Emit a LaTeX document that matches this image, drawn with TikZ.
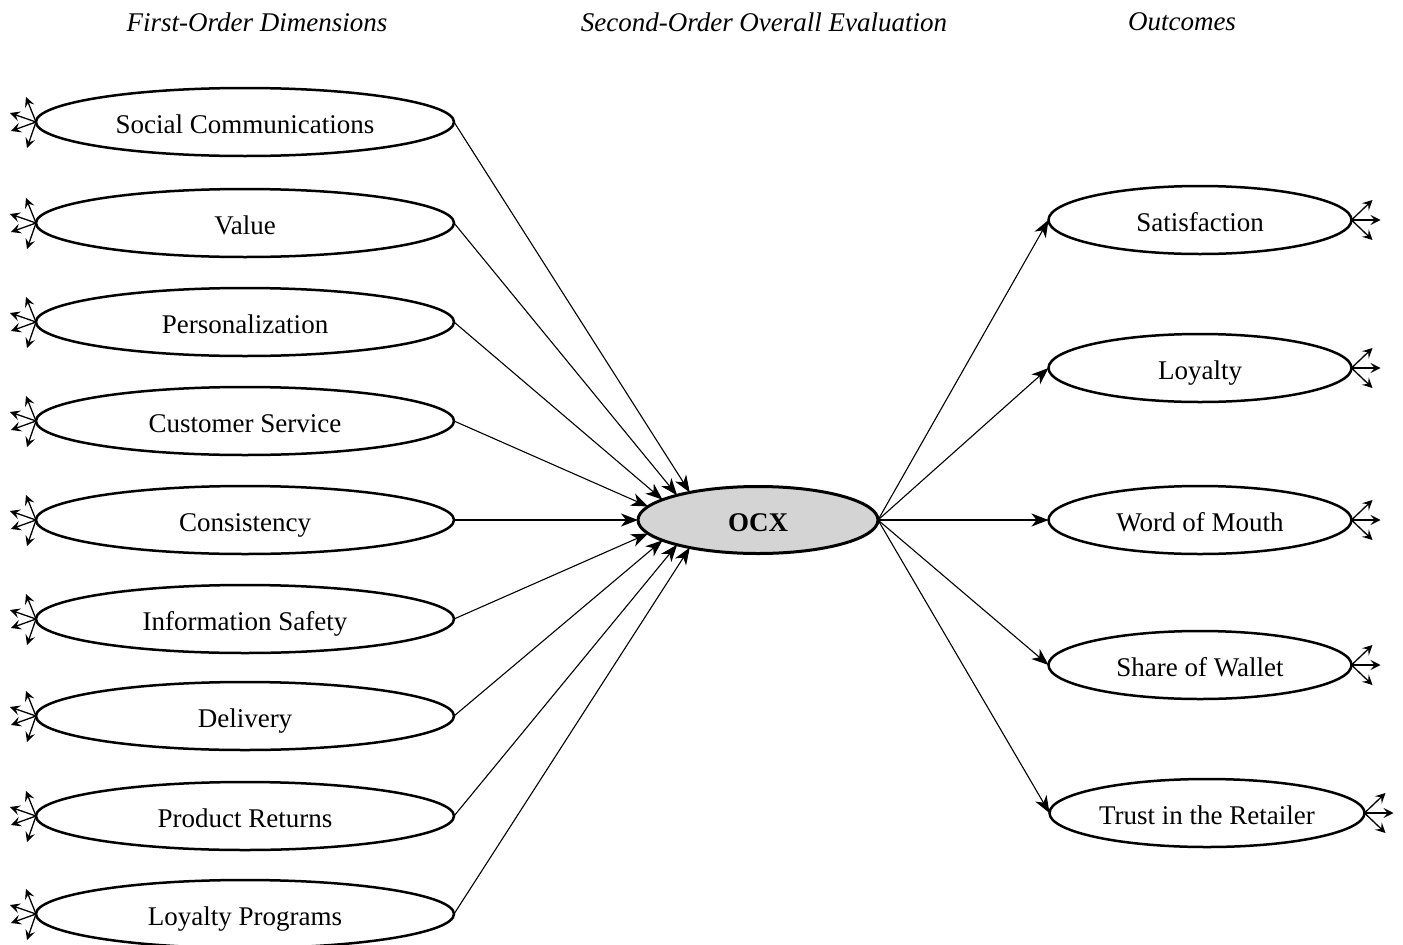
\documentclass[tikz,border=0pt]{standalone}
\usepackage{fontspec}
\setmainfont{Liberation Serif}
\usetikzlibrary{shapes.geometric,arrows.meta,calc}
\begin{document}
\begin{tikzpicture}[x=1pt,y=-1pt,
  lat/.style={ellipse,draw,line width=2.5pt,minimum width=418pt,minimum height=68pt,inner sep=0pt,outer sep=0pt,text height=24pt,text depth=1pt,font=\fontsize{27}{30}\selectfont},
  outcome/.style={lat,minimum width=303pt},
  hdr/.style={font=\fontsize{27}{30}\selectfont\itshape},
  conn/.style={line width=1.1pt,-{Stealth[length=17pt,width=13pt,inset=5pt]}},
  fan/.style={line width=1.3pt,-{Stealth[length=10pt,width=10pt,inset=4pt]}}]
\useasboundingbox (0,0) rectangle (1403,945);
% headers
\node[hdr] (h1) at (257,22) {First-Order Dimensions};
\node[hdr] (h2) at (764,22) {Second-Order Overall Evaluation};
\node[hdr] (h3) at (1182,22) {Outcomes};
% first-order dimensions
\foreach \i/\yy/\t in {1/122/Social Communications,2/223/Value,3/322/Personalization,4/421/Customer Service,5/520/Consistency,6/619/Information Safety,7/716/Delivery,8/816/Product Returns,9/914/Loyalty Programs}{
  \node[lat] (l\i) at (245,\yy) {\t};
  \coordinate (l\i a) at ($(l\i.west)+(-10,-25)$);
  \coordinate (l\i b) at ($(l\i.west)+(-26,-9)$);
  \coordinate (l\i c) at ($(l\i.west)+(-25,9)$);
  \coordinate (l\i d) at ($(l\i.west)+(-9,26)$);
  \foreach \k in {a,b,c,d}{\draw[fan] (l\i.west) -- (l\i\k);}
}
% second order
\node[lat,minimum width=240pt,minimum height=67pt,fill=black!17,line width=3pt,font=\fontsize{27}{30}\selectfont\bfseries] (ocx) at (758,520) {OCX};
\foreach \i/\a in {1/158,2/163,3/168,4/173,5/180,6/187,7/192,8/197,9/202}{
  \draw[conn] (l\i.east) -- (ocx.\a);
}
% outcomes
\node[outcome] (r1) at (1200,220) {Satisfaction};
\node[outcome] (r2) at (1200,368) {Loyalty};
\node[outcome] (r3) at (1200,520) {Word of Mouth};
\node[outcome] (r4) at (1200,665) {Share of Wallet};
\node[outcome,minimum width=315pt] (r5) at (1207,813) {Trust in the Retailer};
\foreach \i in {1,...,5}{
  \draw[conn] (ocx.east) -- (r\i.west);
  \coordinate (r\i a) at ($(r\i.east)+(21,-20)$);
  \coordinate (r\i b) at ($(r\i.east)+(29,0)$);
  \coordinate (r\i c) at ($(r\i.east)+(21,20)$);
  \foreach \k in {a,b,c}{\draw[fan] (r\i.east) -- (r\i\k);}
}
\end{tikzpicture}
\end{document}
